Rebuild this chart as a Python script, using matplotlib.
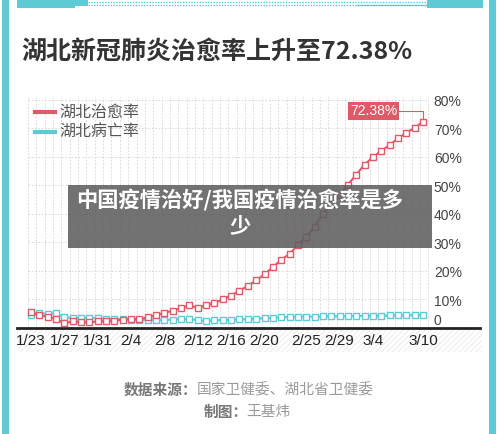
import numpy as np
import matplotlib
matplotlib.use("Agg")
import matplotlib.pyplot as plt
from matplotlib.patches import Rectangle
from matplotlib.lines import Line2D

plt.rcParams['font.family'] = ['Noto Sans CJK SC', 'DejaVu Sans']
plt.rcParams['hatch.linewidth'] = 0.5

# ---------------- data ----------------
dates = ['1/23', '1/24', '1/25', '1/26', '1/27', '1/28', '1/29', '1/30', '1/31',
         '2/1', '2/2', '2/3', '2/4', '2/5', '2/6', '2/7', '2/8', '2/9', '2/10',
         '2/11', '2/12', '2/13', '2/14', '2/15', '2/16', '2/17', '2/18', '2/19',
         '2/20', '2/21', '2/22', '2/23', '2/24', '2/25', '2/26', '2/27', '2/28',
         '2/29', '3/1', '3/2', '3/3', '3/4', '3/5', '3/6', '3/7', '3/8', '3/9', '3/10']
cure_rate = [5.6, 4.4, 4.0, 3.1, 1.7, 2.3, 2.0, 2.0, 2.3, 2.4, 2.6, 2.9, 3.1, 3.2,
             3.7, 4.5, 5.3, 6.1, 7.0, 7.9, 7.1, 7.9, 8.8, 10.0, 11.4, 13.1, 14.8,
             16.7, 18.8, 21.4, 23.9, 26.0, 29.1, 32.1, 35.4, 40.1, 43.6, 46.6,
             50.3, 53.8, 57.3, 60.0, 62.1, 64.2, 66.5, 68.5, 70.2, 72.38]
death_rate = [4.4, 5.3, 4.9, 5.3, 3.7, 3.5, 3.5, 3.5, 3.5, 3.2, 3.1, 3.1, 2.9, 2.8,
              2.8, 2.8, 2.9, 2.9, 3.1, 3.2, 2.7, 2.5, 2.7, 2.8, 2.9, 3.0, 3.1,
              3.3, 3.4, 3.5, 3.7, 3.9, 4.0, 4.0, 4.0, 4.1, 4.1, 4.1, 4.2, 4.2,
              4.3, 4.3, 4.3, 4.4, 4.4, 4.4, 4.5, 4.5]
tick_dates = ['1/23', '1/27', '1/31', '2/4', '2/8', '2/12', '2/16', '2/20',
              '2/25', '2/29', '3/4', '3/10']
y_ticks = [0, 10, 20, 30, 40, 50, 60, 70, 80]
y_labels = ['0', '10%', '20%', '30%', '40%', '50%', '60%', '70%', '80%']

title = '湖北新冠肺炎治愈率上升至72.38%'
series_names = ['湖北治愈率', '湖北病亡率']
banner = '中国疫情治好/我国疫情治愈率是多\n少'
source_head, source_body = '数据来源：', '国家卫健委、湖北省卫健委'
author_head, author_body = '制图：', '王基炜'

RED = '#dd5a66'
BLUE = '#5ccbd6'
TEAL = '#5ecad6'

W, H = 500, 434
fig = plt.figure(figsize=(W / 100, H / 100), dpi=100)
fig.patch.set_facecolor('white')


def fx(x):
    return x / W


def fy(y):
    return 1 - y / H


def rect(x0, y0, x1, y1, **kw):
    fig.patches.append(Rectangle((fx(x0), fy(y1)), fx(x1) - fx(x0), fy(y0) - fy(y1),
                                 transform=fig.transFigure, **kw))


# frame decoration
rect(2, 0, 9, 434, color=TEAL, lw=0)
rect(489, 0, 496, 434, color=TEAL, lw=0)
rect(17, 0, 75, 8, color=TEAL, lw=0)
rect(75, 0, 88, 6, color=TEAL, lw=0)
rect(427, 0, 483, 8, color=TEAL, lw=0)
fig.add_artist(Line2D([fx(88), fx(427)], [fy(2), fy(2)], color=TEAL, lw=1, ls=(0, (1, 1))))
fig.add_artist(Line2D([fx(88), fx(357)], [fy(5), fy(5)], color=TEAL, lw=1, ls=(0, (1, 1))))
fig.add_artist(Line2D([fx(357), fx(427)], [fy(5), fy(5)], color=TEAL, lw=1))

# title
fig.text(fx(21), fy(52), title, fontsize=18, fontweight='bold', color='#333333',
         ha='left', va='center')

# plot area
ax = fig.add_axes([fx(17), fy(328), fx(480) - fx(17), fy(95) - fy(328)])
ax.set_facecolor('none')
days = np.arange(len(dates))
ax.set_xlim(-1.68, 53.84)
ax.set_ylim(0, 81.75)

for d in np.arange(len(dates) + 1) - 0.35:
    ax.plot([d, d], [0, 81], color='#d4d4d4', lw=0.6, ls=(0, (2, 2)), zorder=1)
for v in y_ticks[1:]:
    ax.plot([-0.35, 47.65], [v, v], color='#d4d4d4', lw=0.6, ls=(0, (2, 2)), zorder=1)

ax.plot(days, death_rate, color=BLUE, lw=1.5, marker='s', ms=4.6, mfc='white',
        mec=BLUE, mew=1, zorder=3)
ax.plot(days, cure_rate, color=RED, lw=1.5, marker='s', ms=4.6, mfc='white',
        mec=RED, mew=1, zorder=4)

for s in ['top', 'right', 'left']:
    ax.spines[s].set_visible(False)
ax.spines['bottom'].set_linewidth(2)
ax.spines['bottom'].set_color('#222222')
ax.set_yticks([])
ax.set_xticks([dates.index(t) for t in tick_dates])
ax.set_xticklabels(tick_dates, fontsize=11, color='#222222', family='Liberation Sans')
ax.tick_params(axis='x', length=0, pad=4)

for v, lab in zip(y_ticks, y_labels):
    yy = v + 2.3 if v == 0 else v - 0.8
    ax.text(48.3, yy, lab, fontsize=10, color='#444444', ha='left', va='center',
            family='Liberation Sans')

# end label
last_x, last_y = days[-1], cure_rate[-1]
ax.plot([last_x - 3, last_x, last_x], [last_y + 3.8, last_y + 3.8, last_y + 0.8],
        color=RED, lw=0.8, zorder=5)
ax.text(last_x - 5.9, last_y + 3.8, '72.38%', fontsize=10, color='white', ha='center',
        va='center', family='Liberation Sans', zorder=6,
        bbox=dict(boxstyle='square,pad=0.12', fc=RED, ec='none'))

# legend
for i, (name, c) in enumerate(zip(series_names, [RED, BLUE])):
    y = 112 + i * 20
    fig.add_artist(Line2D([fx(35), fx(55)], [fy(y), fy(y)], color=c, lw=3))
    fig.text(fx(59), fy(y), name, fontsize=11.5, color='#555555', ha='left', va='center')

# hatched band below axis
rect(17, 330, 482, 352, facecolor='white', edgecolor='#e4e4e4', hatch='//////', lw=0,
     zorder=-1)

# overlay banner
rect(68, 185, 432, 248, color='#5e5e5e', alpha=0.88, lw=0, zorder=5)
fig.text(fx(240), fy(213), banner, fontsize=15.3, fontweight='bold', color='white',
         ha='center', va='center', linespacing=1.2, zorder=6)

# source
fig.text(fx(197), fy(390), source_head, fontsize=10.6, fontweight='bold', color='#777777',
         ha='right', va='center')
fig.text(fx(197), fy(390), source_body, fontsize=10.6, color='#9a9a9a', ha='left', va='center')
fig.text(fx(248), fy(412), author_head, fontsize=10.6, fontweight='bold', color='#777777',
         ha='right', va='center')
fig.text(fx(246), fy(412), author_body, fontsize=10.6, color='#9a9a9a', ha='left', va='center')

fig.savefig('out.png', dpi=100)
